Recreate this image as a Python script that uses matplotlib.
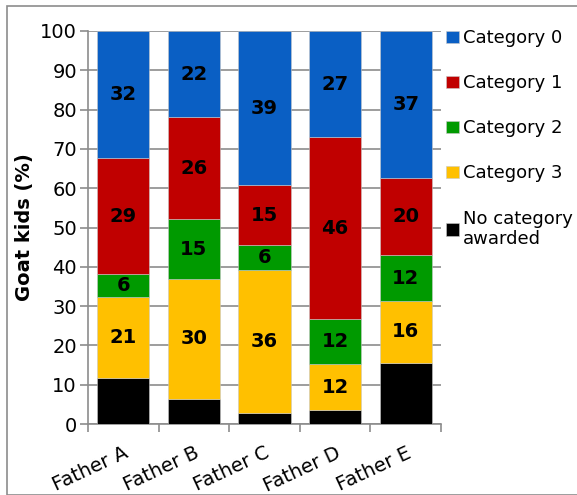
import matplotlib
matplotlib.use("Agg")
import matplotlib.pyplot as plt
from matplotlib.patches import Rectangle
import numpy as np

fathers = ["Father A", "Father B", "Father C", "Father D", "Father E"]
no_category = [11.6, 6.4, 2.9, 3.6, 15.6]
category_3 = [20.8, 30.5, 36.4, 11.6, 15.7]
category_2 = [5.8, 15.2, 6.2, 11.5, 11.7]
category_1 = [29.4, 26.0, 15.3, 46.3, 19.7]
category_0 = [32.4, 21.9, 39.2, 27.0, 37.3]

series = [
    ("No category\nawarded", no_category, "#000000", False),
    ("Category 3", category_3, "#FFC000", True),
    ("Category 2", category_2, "#009A00", True),
    ("Category 1", category_1, "#C00000", True),
    ("Category 0", category_0, "#0A5FC4", True),
]

plt.rcParams['font.family'] = ['DejaVu Sans']
FS = 14

W, H = 577, 495
fig = plt.figure(figsize=(W / 100, H / 100), dpi=100)
ax = fig.add_axes([88 / W, 1 - 424 / H, (441 - 88) / W, (424 - 31) / H])
ax.set_axisbelow(True)

x = np.arange(len(fathers))
bottom = np.zeros(len(fathers))
handles = {}
for name, vals, color, show in series:
    vals = np.array(vals)
    b = ax.bar(x, vals, bottom=bottom, width=0.74, color=color, zorder=3,
               edgecolor="#c8c8c8", linewidth=0.4)
    handles[name] = b
    if show:
        for xi, v, b0 in zip(x, vals, bottom):
            ax.text(xi, b0 + v / 2, f"{v:.0f}", ha="center", va="center",
                    fontsize=FS, fontweight="bold", color="black", zorder=4)
    bottom += vals

ax.set_xlim(-0.5, len(fathers) - 0.5)
ax.set_ylim(0, 100)
ax.set_yticks(np.arange(0, 101, 10))
ax.yaxis.grid(True, color="#8c8c8c", linewidth=1.2)
for s in ["top", "right"]:
    ax.spines[s].set_visible(False)
for s in ["left", "bottom"]:
    ax.spines[s].set_color("#8c8c8c")
    ax.spines[s].set_linewidth(1.2)
ax.tick_params(axis="y", length=6, width=1.2, color="#8c8c8c", labelsize=FS, pad=2)
ax.set_xticks(np.arange(-0.5, len(fathers) + 0.5, 1), minor=False)
ax.set_xticklabels([])
ax.tick_params(axis="x", which="major", length=6, width=1.2, color="#8c8c8c")
ax.set_xticks(x, minor=True)
ax.set_xticklabels(fathers, minor=True, rotation=25, ha="right", fontsize=FS,
                   rotation_mode="anchor")
ax.tick_params(axis="x", which="minor", length=0, pad=14)
ax.set_ylabel("Goat kids (%)", fontsize=FS, fontweight="bold", labelpad=4)

order = ["Category 0", "Category 1", "Category 2", "Category 3", "No category\nawarded"]
leg = fig.legend([handles[k] for k in order], order,
                 loc="upper left", bbox_to_anchor=(439 / W, 1 - 22 / H),
                 frameon=False, fontsize=13, handlelength=0.7, handleheight=0.7,
                 handletextpad=0.25, labelspacing=1.5, borderaxespad=0)

fig.patches.append(Rectangle((7 / W, 0), 1, 1 - 6 / H, transform=fig.transFigure,
                             fill=False, edgecolor="#8c8c8c", linewidth=1.2))
fig.savefig("out.png", dpi=100)
